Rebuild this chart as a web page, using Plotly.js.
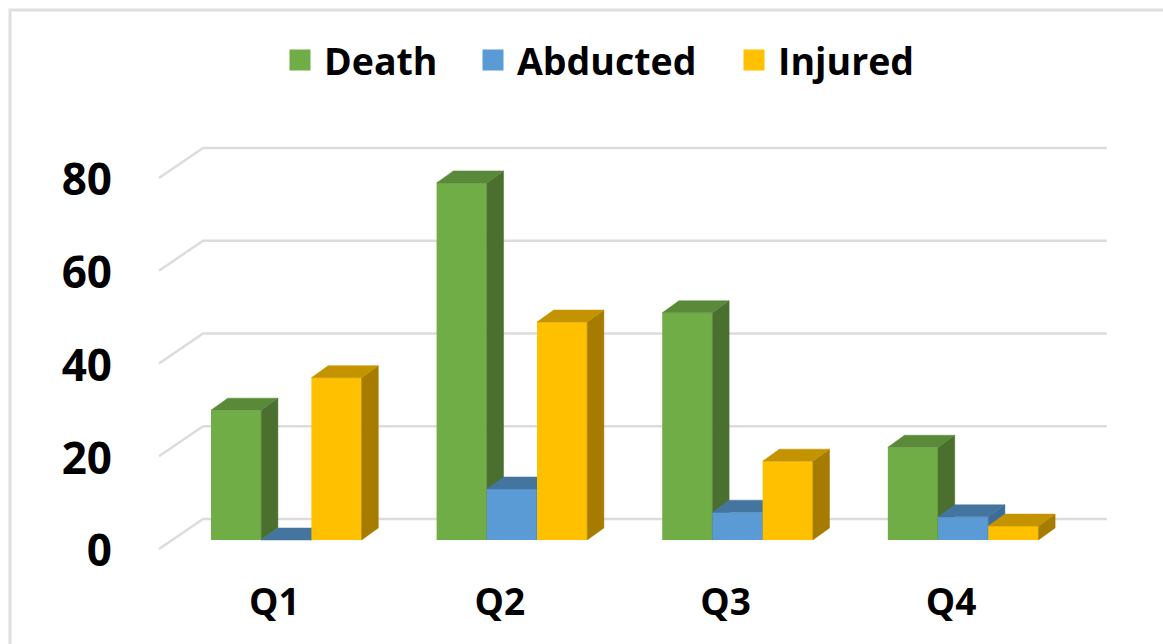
<!DOCTYPE html>
<html>
<head>
<meta charset="utf-8">
<script src="https://cdn.plot.ly/plotly-3.0.1.min.js"></script>
<style>html,body{margin:0;padding:0;background:#fff}</style>
</head>
<body>
<div id="chart" style="width:1163px;height:644px"></div>
<script>
const quarters = ['Q1', 'Q2', 'Q3', 'Q4'];
const death = [28, 77, 49, 20];
const abducted = [0, 11, 6, 5];
const injured = [35, 47, 17, 3];
const yTicks = [0, 20, 40, 60, 80];

const W = 1163, H = 644;
const plotL = 155, plotR = 1110, plotT = 140, plotB = 552;
const xRange = [-0.582, 3.651];
const yRange = [-2.5876, 86.25];
const barWidth = 0.2225;
const depthX = 0.074, depthY = 2.59;      // bar depth in data units
const wallX = -0.5643, backX = -0.369, endX = 3.637;
const backDY = 4.53, wallDY = -1.94;      // gridline offsets in value units

const positions = quarters.map((_, i) => i);
const series = [
  {name: 'Death', values: death, front: '#70AD47', top: '#5A8A39', side: '#4A6F2E', slot: -1.5, z: 1, legend: 'legend', lx: 276},
  {name: 'Abducted', values: abducted, front: '#5B9BD5', top: '#44759F', side: '#3E6C99', slot: -0.5, z: 2, legend: 'legend2', lx: 469},
  {name: 'Injured', values: injured, front: '#FFC000', top: '#C49400', side: '#A67C00', slot: 0.5, z: 3, legend: 'legend3', lx: 730}
];

const traces = [];

// gridlines: wall diagonal + back-wall run, from the tick values
const gx = [], gy = [];
yTicks.forEach(v => {
  gx.push(wallX, backX, endX, null);
  gy.push(v + wallDY, v + backDY, v + backDY, null);
});
traces.push({type: 'scatter', mode: 'lines', x: gx, y: gy, showlegend: false, hoverinfo: 'skip',
  line: {color: '#DCDCDC', width: 2.5}, zorder: 0});

series.forEach(s => {
  const tx = [], ty = [], sx = [], sy = [];
  positions.forEach((p, i) => {
    const l = p + s.slot * barWidth, r = l + barWidth, v = s.values[i];
    tx.push(l, r, r + depthX, l + depthX, l, null);
    ty.push(v, v, v + depthY, v + depthY, v, null);
    sx.push(r, r + depthX, r + depthX, r, r, null);
    sy.push(0, depthY, v + depthY, v, 0, null);
  });
  traces.push({type: 'scatter', mode: 'lines', fill: 'toself', x: sx, y: sy, fillcolor: s.side,
    line: {color: s.side, width: 0.5}, showlegend: false, hoverinfo: 'skip', zorder: s.z});
  traces.push({type: 'scatter', mode: 'lines', fill: 'toself', x: tx, y: ty, fillcolor: s.top,
    line: {color: s.top, width: 0.5}, showlegend: false, hoverinfo: 'skip', zorder: s.z});
  traces.push({type: 'bar', name: s.name, x: positions, y: s.values, width: barWidth,
    offset: s.slot * barWidth, marker: {color: s.front, line: {width: 0}}, showlegend: false, zorder: s.z});
});

// legend keys
series.forEach(s => {
  traces.push({type: 'scatter', mode: 'markers', name: s.name, x: [null], y: [null], legend: s.legend,
    marker: {symbol: 'square', size: 16, color: s.front, line: {color: s.front, width: 5}},
    hoverinfo: 'skip'});
});

const font = 'Open Sans, sans-serif';
const layout = {
  width: W, height: H,
  margin: {l: plotL, r: W - plotR, t: plotT, b: H - plotB, pad: 0},
  paper_bgcolor: '#fff', plot_bgcolor: 'rgba(0,0,0,0)',
  barmode: 'overlay',
  showlegend: true,
  xaxis: {range: xRange, tickvals: positions, ticktext: quarters, showgrid: false, zeroline: false,
    showline: false, ticks: '', ticklabelshift: -12, ticklabelstandoff: 25,
    tickfont: {family: font, size: 37, color: '#000', weight: 700}, fixedrange: true},
  yaxis: {range: yRange, tickvals: yTicks, showgrid: false, zeroline: false, showline: false, ticks: '',
    ticklabelshift: 11, ticklabelstandoff: 42,
    tickfont: {family: font, size: 44, color: '#000', weight: 700}, fixedrange: true},
  shapes: [{type: 'rect', xref: 'paper', yref: 'paper',
    x0: (10 - plotL) / (plotR - plotL), x1: (1190 - plotL) / (plotR - plotL),
    y0: (plotB - 670) / (plotB - plotT), y1: (plotB - 10) / (plotB - plotT),
    line: {color: '#DFDFDF', width: 3}, layer: 'below'}]
};
series.forEach(s => {
  layout[s.legend] = {orientation: 'h', xref: 'container', yref: 'container', x: s.lx / W, y: 1 - 29 / H,
    xanchor: 'left', yanchor: 'top', itemwidth: 38,
    font: {family: font, size: 37.5, color: '#000', weight: 700}, bgcolor: 'rgba(0,0,0,0)'};
});

Plotly.newPlot('chart', traces, layout, {displayModeBar: false});
</script>
</body>
</html>
